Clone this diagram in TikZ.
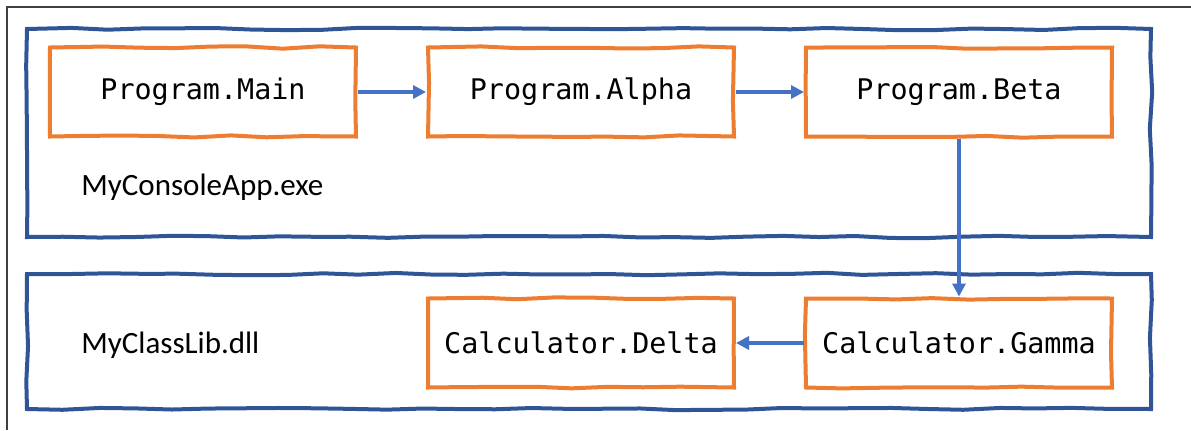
\documentclass[tikz,border=0pt]{standalone}
\usepackage{fontspec}
\setmainfont{Carlito}
\newfontfamily\codefont{DejaVu Sans Mono}
\usepackage{tikz}
\usetikzlibrary{positioning,arrows.meta,decorations.pathmorphing}
\definecolor{cnavy}{HTML}{2F5597}
\definecolor{corange}{HTML}{ED7D31}
\definecolor{carrow}{HTML}{4472C4}
\tikzset{
 sketch/.style={decorate, decoration={random steps, segment length=18pt, amplitude=0.6pt}},
 module/.style={rectangle, draw=cnavy, line width=2pt, sketch, inner sep=0pt},
 meth/.style={rectangle, draw=corange, line width=2pt, fill=white, sketch,
 minimum width=153pt, minimum height=44.5pt, inner sep=0pt, font=\codefont\fontsize{14.2}{16}\selectfont},
 mlabel/.style={anchor=west, inner sep=0pt, font=\fontsize{15.5}{18}\selectfont},
 call/.style={-{Triangle[length=6.5pt, width=6.5pt]}, draw=carrow, line width=1.8pt},
}
\begin{document}
\begin{tikzpicture}[x=0.5pt, y=-0.5pt, node distance=79pt and 34pt]
 \pgfmathsetseed{7}
 \useasboundingbox (0,0) rectangle (1191,430);
 \draw[black!75, line width=0.7pt] (7,430) -- (7,7) -- (1191,7);
 % assemblies
 \node[module, minimum width=562pt, minimum height=104pt] (exe) at (589,133) {};
 \node[module, minimum width=562pt, minimum height=67.5pt] (dll) at (589,341.5) {};
 \node[mlabel] (exelbl) at (81,187) {MyConsoleApp.exe};
 \node[mlabel] (dlllbl) at (81,345) {MyClassLib.dll};
 % methods
 \node[meth] (main) at (203,92) {Program.Main};
 \node[meth, right=of main] (alpha) {Program.Alpha};
 \node[meth, right=of alpha] (beta) {Program.Beta};
 \node[meth, below=of beta] (gamma) {Calculator.Gamma};
 \node[meth, left=of gamma] (delta) {Calculator.Delta};

 \draw[call] (main) -- (alpha);
 \draw[call] (alpha) -- (beta);
 \draw[call] (beta) -- (gamma);
 \draw[call] (gamma) -- (delta);
\end{tikzpicture}
\end{document}
